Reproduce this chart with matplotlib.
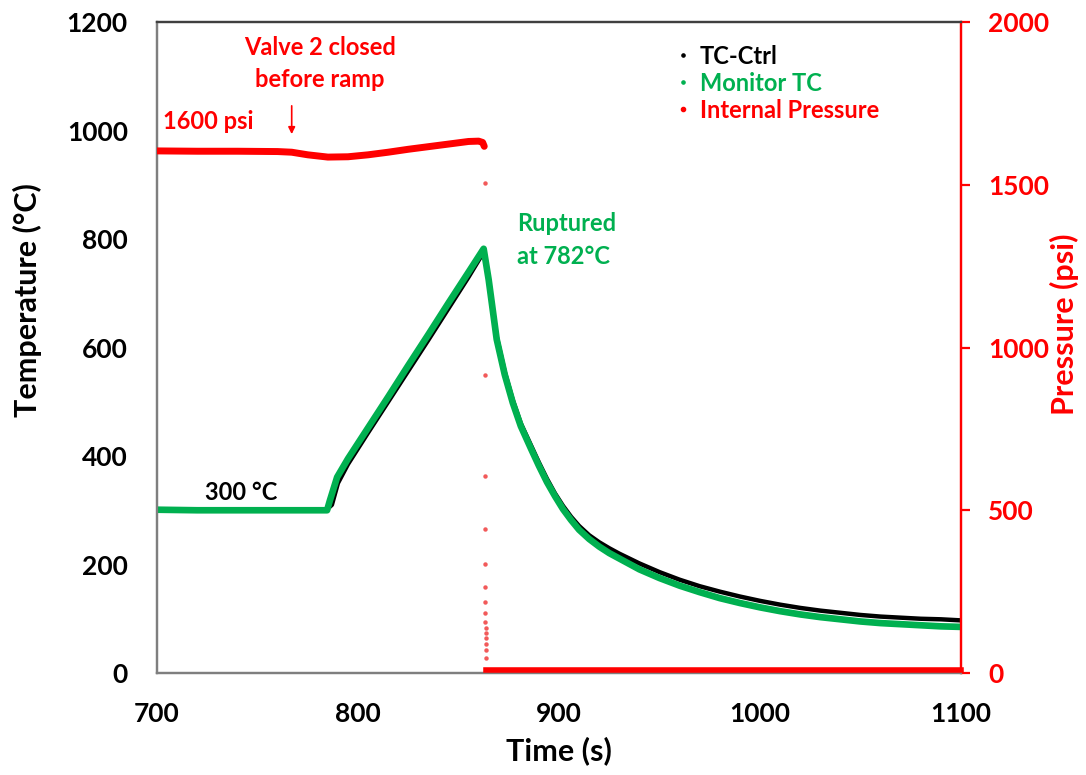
import matplotlib
matplotlib.use("Agg")
import matplotlib.pyplot as plt

plt.rcParams['font.family'] = ['Lato', 'DejaVu Sans']
plt.rcParams['font.weight'] = 'bold'

GREEN = '#00B050'
RED = '#FF0000'

# TC-Ctrl temperature (°C)
t_ctrl = [700, 720, 740, 760, 784, 787, 790, 795, 805, 815, 825, 835, 845, 855, 862.5,
          865, 869, 873, 877, 881, 886, 890, 894, 898, 902, 906, 910, 915, 920, 925,
          930, 940, 950, 960, 970, 980, 990, 1000, 1010, 1020, 1030, 1040, 1050, 1060,
          1070, 1080, 1090, 1100]
temp_ctrl = [300, 300, 300, 300, 300, 310, 350, 385, 443, 500, 557, 614, 672, 730, 776,
             725, 620, 555, 503, 460, 420, 388, 358, 331, 308, 288, 271, 254, 241, 230,
             220, 202, 186, 172, 160, 150, 141, 133, 126, 120, 115, 111, 107, 104,
             102, 100, 99, 97]

# Monitor TC temperature (°C)
t_mon = [700, 720, 740, 760, 784.6, 786, 789.6, 795, 805, 815, 825, 835, 845, 855, 862.5,
         865, 869, 873, 877, 881, 886, 890, 894, 898, 902, 906, 910, 915, 920, 925,
         930, 940, 950, 960, 970, 980, 990, 1000, 1010, 1020, 1030, 1040, 1050, 1060,
         1070, 1080, 1090, 1100]
temp_mon = [301, 300, 300, 300, 300, 318, 361, 395, 452, 509, 567, 624, 682, 739, 782,
            725, 615, 550, 498, 455, 414, 382, 352, 326, 302, 282, 264, 247, 233, 221,
            211, 191, 175, 161, 149, 138, 129, 121, 114, 108, 103, 99, 95, 92,
            90, 88, 86, 85]

# Internal pressure (psi) before rupture
t_pres = [700, 720, 740, 760, 767, 775, 785, 795, 805, 815, 825, 835, 845, 855, 860,
          862, 862.8]
pres = [1604, 1603, 1603, 1602, 1600, 1592, 1585, 1586, 1592, 1600, 1609, 1617, 1625,
        1633, 1634, 1630, 1618]

# Pressure readings during the rupture
t_drop = [863.0, 863.05, 863.1, 863.15, 863.2, 863.25, 863.3, 863.35, 863.4, 863.45,
          863.5, 863.55, 863.6, 863.65, 863.7]
pres_drop = [1505, 915, 605, 442, 335, 264, 218, 184, 157, 138, 123, 108, 90, 70, 45]

# Pressure after rupture (psi)
t_post = [863.8, 900, 950, 1000, 1050, 1100]
pres_post = [8, 8, 8, 8, 8, 8]

fig = plt.figure(figsize=(10.86, 7.75), dpi=100)
ax = fig.add_axes([0.1446, 0.1316, 0.7403, 0.8400])
ax2 = ax.twinx()

ax.plot(t_ctrl, temp_ctrl, color='black', lw=3.2, zorder=2, label='TC-Ctrl')
ax.plot(t_mon, temp_mon, color=GREEN, lw=4.8, zorder=3, label='Monitor TC')

ax2.plot(t_pres, pres, color=RED, lw=5.0, solid_capstyle='round', zorder=3,
         label='Internal Pressure')
ax2.plot(t_drop, pres_drop, 'o', color='#F25A5A', ms=3.2, mec='none', zorder=3)
ax2.plot(t_post, pres_post, color=RED, lw=4.0, zorder=3, clip_on=False,
         solid_capstyle='projecting')

ax.set_xlim(700, 1100)
ax.set_ylim(0, 1200)
ax2.set_ylim(0, 2000)
ax.set_xticks([700, 800, 900, 1000, 1100])
ax.set_yticks([0, 200, 400, 600, 800, 1000, 1200])
ax2.set_yticks([0, 500, 1000, 1500, 2000])

for a in (ax, ax2):
    a.spines['left'].set_color('#7F7F7F')
    a.spines['bottom'].set_color('#7F7F7F')
    a.spines['top'].set_color('#404040')
    a.spines['right'].set_color(RED)
    for s in a.spines.values():
        s.set_linewidth(1.6)

ax.tick_params(axis='both', length=0, labelsize=19)
ax.tick_params(axis='y', pad=21)
ax.tick_params(axis='x', pad=21)
ax2.tick_params(axis='y', length=6.5, width=1.6, color=RED, labelcolor=RED,
                labelsize=19, pad=13, direction='out')

ax.set_xlabel('Time (s)', fontsize=22, fontweight='bold')
ax.set_ylabel('Temperature (°C)', fontsize=22, fontweight='bold')
ax2.set_ylabel('Pressure (psi)', fontsize=22, fontweight='bold', color=RED)
ax.xaxis.set_label_coords(0.5, -0.097)
ax.yaxis.set_label_coords(-0.143, 0.573)
ax2.yaxis.set_label_coords(1.111, 0.535)

# annotations
ax2.annotate('', xy=(767, 1647), xytext=(767, 1751),
             arrowprops=dict(arrowstyle='-|>', color=RED, lw=1.2, mutation_scale=10))
ax2.text(781, 1872, 'Valve 2 closed\nbefore ramp', color=RED, fontsize=17,
         fontweight='bold', ha='center', va='center', linespacing=1.45)
ax2.text(703, 1693, '1600 psi', color=RED, fontsize=17, fontweight='bold',
         ha='left', va='center')
ax.text(724, 333, '300 °C', color='black', fontsize=17, fontweight='bold',
        ha='left', va='center')
ax.text(879, 798, 'Ruptured\nat 782°C', color=GREEN, fontsize=17, fontweight='bold',
        ha='left', va='center', linespacing=1.5)

# legend
h_ctrl, = ax.plot([], [], 'o', color='black', ms=2.3)
h_mon, = ax.plot([], [], 'o', color=GREEN, ms=2.3)
h_pres, = ax.plot([], [], 'o', color=RED, ms=3)
leg = ax2.legend([h_ctrl, h_mon, h_pres], ['TC-Ctrl', 'Monitor TC', 'Internal Pressure'],
                 loc='upper left', bbox_to_anchor=(0.621, 0.998), frameon=False,
                 handlelength=0.5, handletextpad=0.45, labelspacing=0.17,
                 prop={'size': 17, 'weight': 'bold'},
                 labelcolor=['black', GREEN, RED])

fig.savefig('out.png', dpi=100)
